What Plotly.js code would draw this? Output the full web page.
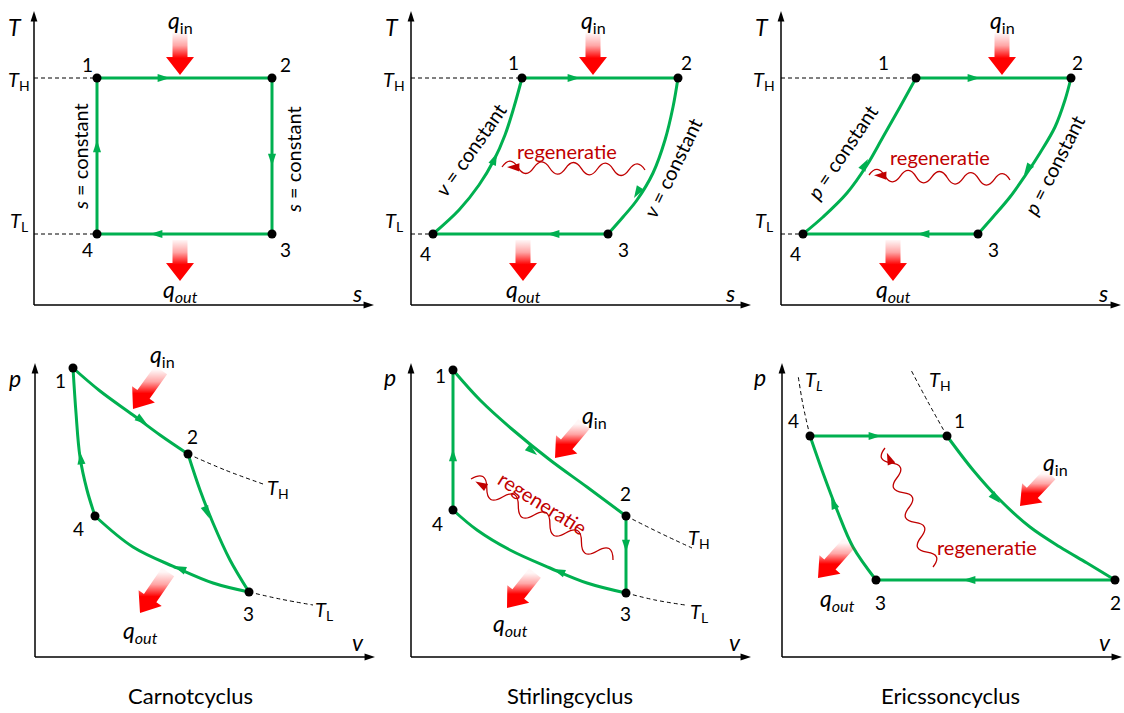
<!DOCTYPE html>
<html><head><meta charset="utf-8">
<script src="https://cdn.plot.ly/plotly-3.0.1.min.js"></script>
<style>html,body{margin:0;padding:0;background:#fff}#chart{width:1124px;height:713px}</style>
</head><body><div id="chart"></div>
<script>
// ---------------- DATA ----------------
const stateLabels = ['1', '2', '3', '4'];
const panelTitles = ['Carnotcyclus', 'Stirlingcyclus', 'Ericssoncyclus'];

// Carnot T-s (states 1..4)
const carnotTs_s = [6.3, 23.8, 23.8, 6.3];
const carnotTs_T = [22.7, 22.7, 7.1, 7.1];
// Stirling T-s
const stirlingTs_s = [11.1, 26.7, 19.7, 2.2];
const stirlingTs_T = [22.7, 22.7, 7.1, 7.1];
const stirlingTs_23_s = [26.7, 26.2, 25.4, 24.2, 22.6, 21.2, 19.7];
const stirlingTs_23_T = [22.7, 19.8, 16.5, 13.2, 10.5, 8.8, 7.1];
const stirlingTs_41_s = [2.2, 4.8, 6.8, 8.3, 9.4, 10.3, 11.1];
const stirlingTs_41_T = [7.1, 9.5, 12.0, 14.5, 17.0, 19.8, 22.7];
// Ericsson T-s
const ericssonTs_s = [13.5, 29.0, 19.7, 2.2];
const ericssonTs_T = [22.7, 22.7, 7.1, 7.1];
const ericssonTs_23_s = [29.0, 28.4, 27.4, 25.9, 24.6, 22.9, 21.2, 19.7];
const ericssonTs_23_T = [22.7, 20.5, 17.8, 15.2, 13.2, 10.8, 8.8, 7.1];
const ericssonTs_41_s = [2.2, 4.2, 6.6, 8.6, 10.2, 11.9, 13.5];
const ericssonTs_41_T = [7.1, 8.8, 11.2, 14.0, 16.8, 19.8, 22.7];

// Carnot p-v
const carnotPv_v = [3.8, 15.3, 21.4, 6.0];
const carnotPv_p = [28.9, 20.3, 6.5, 14.1];
const carnotPv_12_v = [3.8, 6.5, 9.8, 12.5, 15.3];
const carnotPv_12_p = [28.9, 26.6, 24.2, 22.2, 20.3];
const carnotPv_23_v = [15.3, 16.5, 17.8, 19.5, 21.4];
const carnotPv_23_p = [20.3, 16.7, 13.4, 9.7, 6.5];
const carnotPv_34_v = [21.4, 17.8, 14.2, 9.8, 6.0];
const carnotPv_34_p = [6.5, 7.4, 8.9, 11.0, 14.1];
const carnotPv_41_v = [6.0, 5.2, 4.5, 4.1, 3.8];
const carnotPv_41_p = [14.1, 16.7, 20.0, 24.4, 28.9];
const carnotPv_TH_v = [15.3, 19.0, 22.8];
const carnotPv_TH_p = [20.3, 18.7, 17.3];
const carnotPv_TL_v = [21.4, 24.5, 27.8];
const carnotPv_TL_p = [6.5, 5.8, 5.2];

// Stirling p-v
const stirlingPv_v = [4.2, 21.5, 21.5, 4.2];
const stirlingPv_p = [28.7, 14.1, 6.4, 14.7];
const stirlingPv_12_v = [4.2, 6.9, 10.2, 13.9, 17.6, 21.5];
const stirlingPv_12_p = [28.7, 25.7, 22.7, 19.7, 17.0, 14.1];
const stirlingPv_34_v = [21.5, 17.6, 13.9, 9.9, 6.6, 4.2];
const stirlingPv_34_p = [6.4, 7.4, 8.9, 10.7, 12.7, 14.7];
const stirlingPv_TH_v = [21.5, 24.9, 28.1];
const stirlingPv_TH_p = [14.1, 12.4, 10.9];
const stirlingPv_TL_v = [21.5, 24.4, 27.4];
const stirlingPv_TL_p = [6.4, 5.7, 5.2];

// Ericsson p-v
const ericssonPv_v = [16.5, 33.3, 9.4, 2.8];
const ericssonPv_p = [22.1, 7.7, 7.7, 22.1];
const ericssonPv_12_v = [16.5, 19.1, 21.8, 24.8, 27.8, 30.5, 33.3];
const ericssonPv_12_p = [22.1, 18.7, 15.7, 13.0, 11.0, 9.4, 7.7];
const ericssonPv_34_v = [9.4, 7.1, 5.5, 4.1, 2.8];
const ericssonPv_34_p = [7.7, 11.0, 14.7, 18.4, 22.1];
const ericssonPv_TL_v = [2.8, 2.1, 1.6];
const ericssonPv_TL_p = [22.1, 25.2, 28.2];
const ericssonPv_TH_v = [16.5, 14.6, 12.9];
const ericssonPv_TH_p = [22.1, 25.5, 28.7];

// ---------------- LAYOUT / STYLE ----------------
const W = 1124, H = 713;
const GREEN = '#00B050', RED = '#FF0000', DARKRED = '#C00000';
const FONT = 'Lato, "Open Sans", sans-serif';
const PANELS = [{ox:34,oy:305},{ox:411,oy:305},{ox:781,oy:305},{ox:35,oy:657},{ox:411,oy:657},{ox:782,oy:657}];
const LX = 340, LY = 294, XR = 34, YR = 29.4;

function sfx(p){ return p === 0 ? '' : String(p + 1); }
const traces = [];
const annotations = [];
const shapes = [];
const layout = {
  width: W, height: H, margin: {l:0, r:0, t:0, b:0},
  paper_bgcolor: '#fff', plot_bgcolor: 'rgba(0,0,0,0)', showlegend: false,
  font: {family: FONT, color: '#000', size: 18}
};
PANELS.forEach((P, p) => {
  const s = sfx(p);
  layout['xaxis' + s] = {domain: [P.ox / W, (P.ox + LX) / W], range: [0, XR], visible: false, fixedrange: true, anchor: 'y' + s};
  layout['yaxis' + s] = {domain: [(H - P.oy) / H, (H - P.oy + LY) / H], range: [0, YR], visible: false, fixedrange: true, anchor: 'x' + s};
});
layout.xaxis7 = {domain:[0,1], range:[0,W], visible:false, fixedrange:true, anchor:'y7'};
layout.yaxis7 = {domain:[0,1], range:[H,0], visible:false, fixedrange:true, anchor:'x7'};

function line(p, xs, ys, opt) {
  opt = opt || {};
  traces.push({type:'scatter', mode:'lines', x:xs, y:ys, xaxis:'x'+sfx(p), yaxis:'y'+sfx(p),
    line:{color: opt.color || GREEN, width: opt.width || 3, shape: opt.shape || 'linear', smoothing: 1, dash: opt.dash || 'solid'},
    cliponaxis:false, hoverinfo:'skip', showlegend:false});
}
function pts(p, xs, ys) {
  traces.push({type:'scatter', mode:'markers', x:xs, y:ys, xaxis:'x'+sfx(p), yaxis:'y'+sfx(p),
    marker:{size:9, color:'#000'}, cliponaxis:false, hoverinfo:'skip', showlegend:false});
}
// arrowhead markers (tip at the given point)
function heads(xa, ya, xs, ys, angles, color, size) {
  traces.push({type:'scatter', mode:'markers', x:xs, y:ys, xaxis:xa, yaxis:ya,
    marker:{symbol:'arrow', size:size, color:color, angle:angles, line:{width:0}},
    cliponaxis:false, hoverinfo:'skip', showlegend:false});
}
function pair(a, i, j){ return [a[i], a[j]]; }
const DASH = {color:'#000', width:1, dash:'4px,3px'};
const DASHC = {color:'#000', width:1, dash:'4px,3px', shape:'spline'};
const SPL = {shape:'spline'};

// Panel 0: Carnot T-s
line(0, [0, carnotTs_s[0]], [carnotTs_T[0], carnotTs_T[0]], DASH);
line(0, [0, carnotTs_s[3]], [carnotTs_T[3], carnotTs_T[3]], DASH);
[[0,1],[1,2],[2,3],[3,0]].forEach(([i,j]) => line(0, pair(carnotTs_s,i,j), pair(carnotTs_T,i,j)));
// Panel 1: Stirling T-s
line(1, [0, stirlingTs_s[0]], [stirlingTs_T[0], stirlingTs_T[0]], DASH);
line(1, [0, stirlingTs_s[3]], [stirlingTs_T[3], stirlingTs_T[3]], DASH);
line(1, pair(stirlingTs_s,0,1), pair(stirlingTs_T,0,1));
line(1, stirlingTs_23_s, stirlingTs_23_T, SPL);
line(1, pair(stirlingTs_s,2,3), pair(stirlingTs_T,2,3));
line(1, stirlingTs_41_s, stirlingTs_41_T, SPL);
// Panel 2: Ericsson T-s
line(2, [0, ericssonTs_s[0]], [ericssonTs_T[0], ericssonTs_T[0]], DASH);
line(2, [0, ericssonTs_s[3]], [ericssonTs_T[3], ericssonTs_T[3]], DASH);
line(2, pair(ericssonTs_s,0,1), pair(ericssonTs_T,0,1));
line(2, ericssonTs_23_s, ericssonTs_23_T, SPL);
line(2, pair(ericssonTs_s,2,3), pair(ericssonTs_T,2,3));
line(2, ericssonTs_41_s, ericssonTs_41_T, SPL);
// Panel 3: Carnot p-v
line(3, carnotPv_TH_v, carnotPv_TH_p, DASHC);
line(3, carnotPv_TL_v, carnotPv_TL_p, DASHC);
line(3, carnotPv_12_v, carnotPv_12_p, SPL);
line(3, carnotPv_23_v, carnotPv_23_p, SPL);
line(3, carnotPv_34_v, carnotPv_34_p, SPL);
line(3, carnotPv_41_v, carnotPv_41_p, SPL);
// Panel 4: Stirling p-v
line(4, stirlingPv_TH_v, stirlingPv_TH_p, DASHC);
line(4, stirlingPv_TL_v, stirlingPv_TL_p, DASHC);
line(4, stirlingPv_12_v, stirlingPv_12_p, SPL);
line(4, pair(stirlingPv_v,1,2), pair(stirlingPv_p,1,2));
line(4, stirlingPv_34_v, stirlingPv_34_p, SPL);
line(4, pair(stirlingPv_v,3,0), pair(stirlingPv_p,3,0));
// Panel 5: Ericsson p-v
line(5, ericssonPv_TL_v, ericssonPv_TL_p, DASHC);
line(5, ericssonPv_TH_v, ericssonPv_TH_p, DASHC);
line(5, pair(ericssonPv_v,3,0), pair(ericssonPv_p,3,0));
line(5, ericssonPv_12_v, ericssonPv_12_p, SPL);
line(5, pair(ericssonPv_v,1,2), pair(ericssonPv_p,1,2));
line(5, ericssonPv_34_v, ericssonPv_34_p, SPL);

// Direction arrows on the cycles [panel, x, y, dx, dy] (panel units)
const dirArrows = [
  [0,13.6,22.7,1,0],[0,23.8,13.9,0,-1],[0,11.6,7.1,-1,0],[0,6.3,16.5,0,1],
  [1,16.9,22.7,1,0],[1,8.6,15.2,1.1,2.6],[1,22.3,10.7,-1.6,-2.7],[1,13.6,7.1,-1,0],
  [2,19.9,22.7,1,0],[2,8.7,14.6,1.6,2.8],[2,24.3,13.0,-1.4,-2.2],[2,13.6,7.1,-1,0],
  [3,11.2,23.3,2.7,-1.9],[3,17.4,13.9,1.3,-3.3],[3,13.9,9.1,-3.6,1.5],[3,4.5,20.5,-0.4,3.3],
  [4,12.6,20.2,3.7,-3.0],[4,21.5,10.5,0,-1],[4,14.2,8.8,-3.7,1.5],[4,4.2,20.8,0,1],
  [5,9.9,22.1,1,0],[5,21.8,15.4,2.8,-3.0],[5,18.1,7.7,-1,0],[5,4.9,16.0,-1.4,3.6]
];
PANELS.forEach((P, p) => {
  const list = dirArrows.filter(a => a[0] === p);
  heads('x'+sfx(p), 'y'+sfx(p), list.map(a => a[1]), list.map(a => a[2]),
        list.map(a => Math.atan2(a[3], a[4]) * 180 / Math.PI), GREEN, 13);
});

// State points (drawn above the lines)
pts(0, carnotTs_s, carnotTs_T);
pts(1, stirlingTs_s, stirlingTs_T);
pts(2, ericssonTs_s, ericssonTs_T);
pts(3, carnotPv_v, carnotPv_p);
pts(4, stirlingPv_v, stirlingPv_p);
pts(5, ericssonPv_v, ericssonPv_p);

// Axis lines with arrowheads
const axTipX = [], axTipY = [], axAng = [];
PANELS.forEach(P => {
  shapes.push({type:'line', xref:'x7', yref:'y7', x0:P.ox, y0:P.oy, x1:P.ox + LX - 3, y1:P.oy, line:{color:'#000', width:1.5}});
  shapes.push({type:'line', xref:'x7', yref:'y7', x0:P.ox, y0:P.oy, x1:P.ox, y1:P.oy - LY + 3, line:{color:'#000', width:1.5}});
  axTipX.push(P.ox + LX, P.ox); axTipY.push(P.oy, P.oy - LY); axAng.push(90, 0);
});
heads('x7', 'y7', axTipX, axTipY, axAng, '#000', 11);

// Heat arrows [tailx, taily, tipx, tipy] in pixel overlay
const heatArrows = [
  [180,33,180,75],[180,240,180,281],
  [593,33,593,75],[523,240,523,281],
  [1002,33,1002,75],[893,240,893,281],
  [161,370,133,409],[168,572,140,613],
  [584,424,555,458],[535,573,507,608],
  [1050,474,1020,506],[849,543,818,578]
];
heatArrows.forEach(([tx,ty,px,py]) => {
  const L = Math.hypot(px-tx, py-ty), ux = (px-tx)/L, uy = (py-ty)/L, nx = -uy, ny = ux;
  const hl = 18, hw = 14, sw = 7.5;
  const bx = px - ux*hl, by = py - uy*hl;
  const xs = [tx+nx*sw, bx+nx*sw, bx+nx*hw, px, bx-nx*hw, bx-nx*sw, tx-nx*sw, tx+nx*sw];
  const ys = [ty+ny*sw, by+ny*sw, by+ny*hw, py, by-ny*hw, by-ny*sw, ty-ny*sw, ty+ny*sw];
  traces.push({type:'scatter', mode:'lines', x:xs, y:ys, xaxis:'x7', yaxis:'y7', fill:'toself',
    fillcolor:RED, line:{width:0, color:'rgba(0,0,0,0)'},
    fillgradient:{type:'vertical', start:Math.min(ty,py), stop:Math.max(ty,py),
      colorscale:[[0,'rgba(255,0,0,0.03)'],[0.3,'rgba(255,0,0,0.35)'],[0.6,'rgb(255,0,0)'],[1,'rgb(255,0,0)']]},
    hoverinfo:'skip', showlegend:false, cliponaxis:false});
});

// Regeneration squiggles [startx, starty, endx, endy, amplitude, halfwaves]
const waves = [
  [645,170,502,167,6,9],
  [1010,180,869,175,6,9],
  [613,560,471,479,8,9],
  [933,567,885,448,7,8]
];
const wX = [], wY = [], wA = [];
waves.forEach(([sx,sy,ex,ey,A,N]) => {
  const L = Math.hypot(ex-sx, ey-sy), ux = (ex-sx)/L, uy = (ey-sy)/L, nx = -uy, ny = ux;
  const step = L / N;
  let d = `M${sx},${sy}`;
  const c1x = sx + ux*step/2 + nx*2*A, c1y = sy + uy*step/2 + ny*2*A;
  d += ` Q${c1x.toFixed(2)},${c1y.toFixed(2)} ${(sx+ux*step).toFixed(2)},${(sy+uy*step).toFixed(2)}`;
  for (let k = 2; k <= N; k++) d += ` T${(sx+ux*step*k).toFixed(2)},${(sy+uy*step*k).toFixed(2)}`;
  shapes.push({type:'path', xref:'x7', yref:'y7', path:d, line:{color:DARKRED, width:1.3}});
  wX.push(ex - ux*5); wY.push(ey - uy*5); wA.push(Math.atan2(ux, -uy) * 180 / Math.PI);
});
heads('x7', 'y7', wX, wY, wA, DARKRED, 13);

// Text helper (pixel overlay)
function txt(x, y, text, size, opt) {
  opt = opt || {};
  annotations.push(Object.assign({xref:'x7', yref:'y7', x:x, y:y, text:text, showarrow:false,
    xanchor:'center', yanchor:'middle', font:{family:FONT, size:size, color: opt.color || '#000'}}, opt.extra || {}));
}
const QIN = '<i>q</i><sub>in</sub>', QOUT = '<i>q<sub>out</sub></i>';
const TH = '<i>T</i><sub>H</sub>', TL = '<i>T</i><sub>L</sub>';
// Axis names
[[15,27,'T'],[392,27,'T'],[762,27,'T'],[357,293,'s'],[730,293,'s'],[1103,293,'s'],
 [15,378,'p'],[390,377,'p'],[760,377,'p'],[358,642,'v'],[735,642,'v'],[1105,642,'v']]
 .forEach(([x,y,t]) => txt(x, y, '<i>' + t + '</i>', 23));
// T_H / T_L
[[19,80,TH],[19,221,TL],[394,80,TH],[394,221,TL],[764,80,TH],[764,221,TL],
 [278,488,TH],[324,610,TL],[699,538,TH],[699,612,TL],[940,380,TH]].forEach(([x,y,t]) => txt(x,y,t,20));
txt(814, 380, '<i>T<sub>L</sub></i>', 20);
// heat labels
[[180,21],[593,21],[1002,21],[162,355],[594,416],[1055,463]].forEach(([x,y]) => txt(x,y,QIN,23));
[[180,290],[523,290],[893,290],[140,631],[510,624],[837,599]].forEach(([x,y]) => txt(x,y,QOUT,23));
// state numbers
const numPos = [
  [[87,64],[285,64],[285,249],[87,249]],
  [[513,62],[686,62],[623,249],[425,253]],
  [[883,62],[1077,62],[993,249],[795,253]],
  [[60,380],[192,436],[248,613],[78,528]],
  [[440,375],[625,493],[625,613],[437,523]],
  [[959,420],[1115,602],[880,602],[793,420]]
];
numPos.forEach(panel => panel.forEach(([x,y], i) => txt(x, y, stateLabels[i], 19)));
// process labels
txt(80, 157, '<i>s</i> = constant', 20, {extra:{textangle:-90}});
txt(293, 160, '<i>s</i> = constant', 20, {extra:{textangle:-90}});
txt(470, 150, '<i>v</i> = constant', 20, {extra:{textangle:-55}});
txt(672, 168, '<i>v</i> = constant', 20, {extra:{textangle:-64}});
txt(842, 152, '<i>p</i> = constant', 20, {extra:{textangle:-56}});
txt(1054, 165, '<i>p</i> = constant', 20, {extra:{textangle:-63}});
// regeneratie
txt(567, 151, 'regeneratie', 20, {color:DARKRED});
txt(940, 157, 'regeneratie', 20, {color:DARKRED});
txt(543, 503, 'regeneratie', 20, {color:DARKRED, extra:{textangle:32}});
txt(987, 547, 'regeneratie', 20, {color:DARKRED});
// titles
[[190,695],[570,695],[950,695]].forEach(([x,y], i) => txt(x, y, panelTitles[i], 22));

layout.annotations = annotations;
layout.shapes = shapes;
Plotly.newPlot('chart', traces, layout, {staticPlot:true, displayModeBar:false});
</script>
</body></html>
